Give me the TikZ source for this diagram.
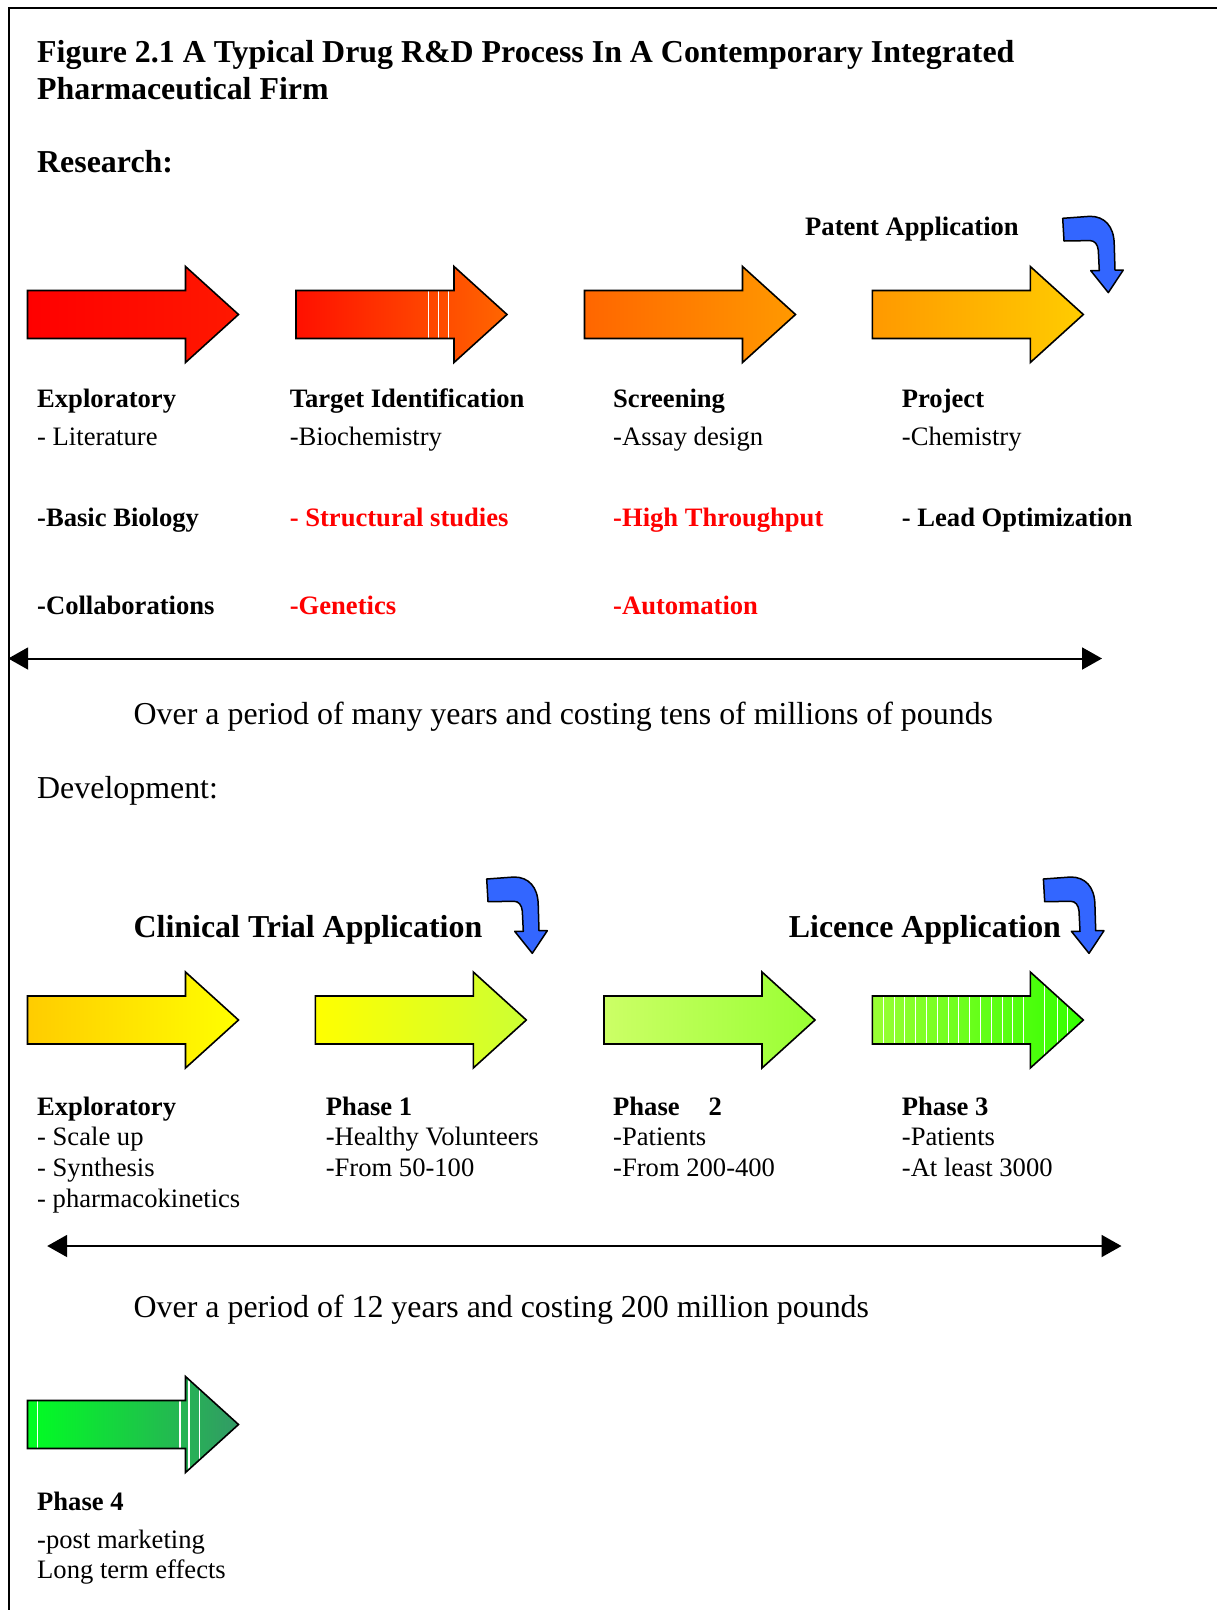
\documentclass[tikz,border=0pt]{standalone}
\usepackage{fontspec}
\setmainfont{Liberation Serif}
\usetikzlibrary{arrows.meta}
\definecolor{bluearr}{HTML}{3366FF}
\definecolor{redtxt}{HTML}{FF0000}
\definecolor{cA}{HTML}{FF0000}
\definecolor{cAb}{HTML}{FF1800}
\definecolor{cB}{HTML}{FF1000}
\definecolor{cC}{HTML}{FF6600}
\definecolor{cD}{HTML}{FF9900}
\definecolor{cE}{HTML}{FFCC00}
\definecolor{cF}{HTML}{FFFF00}
\definecolor{cG}{HTML}{CCFF33}
\definecolor{cH}{HTML}{CCFF66}
\definecolor{cI}{HTML}{99FF33}
\definecolor{cJ}{HTML}{33FF00}
\definecolor{cK}{HTML}{00FF22}
\definecolor{cL}{HTML}{339966}
\newcommand\fatarrow[4]{%
  \shade[left color=#3, right color=#4] (#1,#2-24) -- (#1+158,#2-24) -- (#1+158,#2-48) -- (#1+211,#2) -- (#1+158,#2+48) -- (#1+158,#2+24) -- (#1,#2+24) -- cycle;}
\newcommand\fatoutline[2]{%
  \draw[line width=1.6, line join=miter] (#1,#2-24) -- (#1+158,#2-24) -- (#1+158,#2-48) -- (#1+211,#2) -- (#1+158,#2+48) -- (#1+158,#2+24) -- (#1,#2+24) -- cycle;}
\newcommand\fatstripes[3]{%
  \begin{scope}
    \clip (#1,#2-24) -- (#1+158,#2-24) -- (#1+158,#2-48) -- (#1+211,#2) -- (#1+158,#2+48) -- (#1+158,#2+24) -- (#1,#2+24) -- cycle;
    \foreach \s in {#3} {\draw[white, line width=1.1] (\s,#2-50) -- (\s,#2+50);}
  \end{scope}}
\newcommand\curvyarrow[2]{%
  \draw[fill=bluearr, line width=1.5, line join=round, shift={(#1,#2)}]
    (0,0) -- (27.3,-2) .. controls (42,-2) and (51,8) .. (51.5,25) -- (52.3,51.7) -- (60.6,51.7) -- (45.6,74.3) -- (28,52.3) -- (36.6,52.3) -- (35.6,32) .. controls (35,26) and (32,22.3) .. (27.3,22.3) -- (1.3,22.7) -- cycle;}
\tikzset{
  body/.style={anchor=base west, inner sep=0, font=\fontsize{26.6}{30.8}\selectfont},
  bodyb/.style={body, font=\fontsize{26.6}{30.8}\selectfont\bfseries},
  redb/.style={bodyb, text=redtxt},
  big/.style={anchor=base west, inner sep=0, font=\fontsize{31.9}{37}\selectfont},
  bigb/.style={big, font=\fontsize{31.9}{37}\selectfont\bfseries},
  span/.style={line width=2, {Triangle[length=20,width=22]}-{Triangle[length=20,width=22]}}
}
\begin{document}
\begin{tikzpicture}[x=1pt,y=-1pt]
\useasboundingbox (0,0) rectangle (1217,1610);
% frame
\draw[line width=1.8] (9,1610) -- (9,8) -- (1217,8);
% title
\node[bigb] (title1) at (37,62) {Figure 2.1 A Typical Drug R\&D Process In A Contemporary Integrated};
\node[bigb] (title2) at (37,99) {Pharmaceutical Firm};
\node[bigb] (research) at (37,172) {Research:};
\node[bodyb] (patent) at (805,235) {Patent Application};
% research arrows
\fatarrow{27.5}{314.5}{cA}{cAb}
\fatoutline{27.5}{314.5}
\fatarrow{296}{314.5}{cB}{cC}
\fatstripes{296}{314.5}{428.3,438.3,448.3}
\fatoutline{296}{314.5}
\fatarrow{584.5}{314.5}{cC}{cD}
\fatoutline{584.5}{314.5}
\fatarrow{872.3}{314.5}{cD}{cE}
\fatoutline{872.3}{314.5}
\curvyarrow{1062.7}{218.3}
% research labels
\node[bodyb] (c1h) at (37,407.5) {Exploratory};
\node[body]  (c1a) at (37,445.7) {- Literature};
\node[bodyb] (c1b) at (37,526.8) {-Basic Biology};
\node[bodyb] (c1c) at (37,614) {-Collaborations};
\node[bodyb] (c2h) at (289.6,407.5) {Target Identification};
\node[body]  (c2a) at (289.6,445.7) {-Biochemistry};
\node[redb]  (c2b) at (289.6,526.8) {- Structural studies};
\node[redb]  (c2c) at (289.6,614) {-Genetics};
\node[bodyb] (c3h) at (613,407.5) {Screening};
\node[body]  (c3a) at (613,445.7) {-Assay design};
\node[redb]  (c3b) at (613,526.8) {-High Throughput};
\node[redb]  (c3c) at (613,614) {-Automation};
\node[bodyb] (c4h) at (901.7,407.5) {Project};
\node[body]  (c4a) at (901.7,445.7) {-Chemistry};
\node[bodyb] (c4b) at (901.7,526.8) {- Lead Optimization};
% research span
\coordinate (ra) at (8.2,658.5);
\coordinate (rb) at (1102,658.5);
\draw[span] (ra) -- (rb);
\node[big] (rtext) at (133.5,724) {Over a period of many years and costing tens of millions of pounds};
\node[big] (dev) at (37,798) {Development:};
\node[bigb] (cta) at (133.5,937) {Clinical Trial Application};
\node[bigb] (lic) at (788.7,937) {Licence Application};
\curvyarrow{486.7}{879}
\curvyarrow{1043.4}{879}
% development arrows
\fatarrow{27.5}{1020}{cE}{cF}
\fatoutline{27.5}{1020}
\fatarrow{315.3}{1020}{cF}{cG}
\fatoutline{315.3}{1020}
\fatarrow{604}{1020}{cH}{cI}
\fatoutline{604}{1020}
\fatarrow{872.3}{1020}{cI}{cJ}
\fatstripes{872.3}{1020}{883.3,894.1,904.9,915.7,926.5,937.3,948.1,958.9,969.7,980.5,991.3,1002.1,1012.9,1023.7,1044.3,1057.7,1067.3}
\fatoutline{872.3}{1020}
% development labels
\node[bodyb] (d1h) at (37,1115) {Exploratory};
\node[body]  (d1a) at (37,1145.8) {- Scale up};
\node[body]  (d1b) at (37,1176.6) {- Synthesis};
\node[body]  (d1c) at (37,1207.4) {- pharmacokinetics};
\node[bodyb] (d2h) at (325.6,1115) {Phase 1};
\node[body]  (d2a) at (325.6,1145.8) {-Healthy Volunteers};
\node[body]  (d2b) at (325.6,1176.6) {-From 50-100};
\node[bodyb] (d3h) at (613,1115) {Phase\hspace{29pt}2};
\node[body]  (d3a) at (613,1145.8) {-Patients};
\node[body]  (d3b) at (613,1176.6) {-From 200-400};
\node[bodyb] (d4h) at (901.7,1115) {Phase 3};
\node[body]  (d4a) at (901.7,1145.8) {-Patients};
\node[body]  (d4b) at (901.7,1176.6) {-At least 3000};
% development span
\coordinate (da) at (47.2,1246);
\coordinate (db) at (1121.5,1246);
\draw[span] (da) -- (db);
\node[big] (dtext) at (133.5,1317) {Over a period of 12 years and costing 200 million pounds};
% phase 4
\fatarrow{27.5}{1424.5}{cK}{cL}
\fatstripes{27.5}{1424.5}{37.3,180,189,199.3}
\fatoutline{27.5}{1424.5}
\node[bodyb] (p4h) at (37,1510) {Phase 4};
\node[body]  (p4a) at (37,1548) {-post marketing};
\node[body]  (p4b) at (37,1578.8) {Long term effects};
\end{tikzpicture}
\end{document}
